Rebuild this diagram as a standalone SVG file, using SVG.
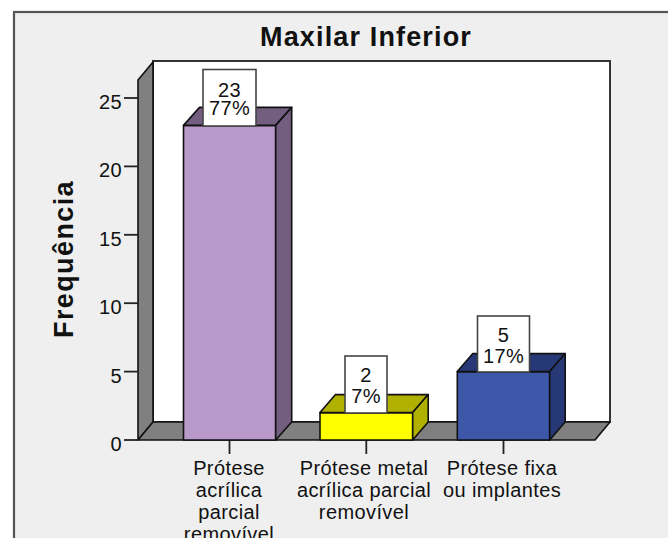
<svg xmlns="http://www.w3.org/2000/svg" width="668" height="538" viewBox="0 0 668 538">
<style>
.t{font-family:"Liberation Sans",Arial,sans-serif;font-size:20px;fill:#111;letter-spacing:0.4px}
.b{font-family:"Liberation Sans",Arial,sans-serif;font-size:27px;font-weight:bold;fill:#111}
.e{stroke:#111;stroke-width:1.6;stroke-linejoin:round}
.box{fill:#fff;stroke:#444;stroke-width:1.6}
.tk{stroke:#222;stroke-width:1.8}
</style>
<rect x="0" y="0" width="668" height="538" fill="#fff"/>
<rect x="14" y="12" width="700" height="600" fill="#efefef" stroke="#555" stroke-width="2.2"/>
<text class="b" x="366" y="46" text-anchor="middle" letter-spacing="1.15">Maxilar Inferior</text>
<text class="b" transform="translate(73,259) rotate(-90)" text-anchor="middle" letter-spacing="1.4">Frequência</text>
<g id="plot">
<rect x="153" y="61" width="457" height="361" fill="#fff" stroke="#333" stroke-width="2"/>
<polygon class="e" points="138,80 153,62 153,422 138,440" fill="#808080"/>
<polygon class="e" points="138,440 153,422 610,422 595,440" fill="#808080"/>
</g>
<g id="axis">
<line class="tk" x1="124" y1="440" x2="138" y2="440"/>
<line class="tk" x1="124" y1="371.6" x2="138" y2="371.6"/>
<line class="tk" x1="124" y1="303.2" x2="138" y2="303.2"/>
<line class="tk" x1="124" y1="234.8" x2="138" y2="234.8"/>
<line class="tk" x1="124" y1="166.4" x2="138" y2="166.4"/>
<line class="tk" x1="124" y1="98" x2="138" y2="98"/>
<text class="t" x="122" y="451" text-anchor="end">0</text>
<text class="t" x="122" y="382.6" text-anchor="end">5</text>
<text class="t" x="122" y="314.2" text-anchor="end">10</text>
<text class="t" x="122" y="245.8" text-anchor="end">15</text>
<text class="t" x="122" y="177.4" text-anchor="end">20</text>
<text class="t" x="122" y="109" text-anchor="end">25</text>
<line class="tk" x1="229.5" y1="440" x2="229.5" y2="454"/>
<line class="tk" x1="366.3" y1="440" x2="366.3" y2="454"/>
<line class="tk" x1="503.5" y1="440" x2="503.5" y2="454"/>
</g>
<g id="bar1">
<rect class="e" x="183.5" y="125.4" width="92.2" height="314.6" fill="#b899c9"/>
<polygon class="e" points="183.5,125.4 199.5,107.4 291.7,107.4 275.7,125.4" fill="#735e80"/>
<polygon class="e" points="275.7,125.4 291.7,107.4 291.7,422 275.7,440" fill="#735e80"/>
<rect class="box" x="203" y="69.5" width="53" height="56.5"/>
<text class="t" x="229.5" y="96.7" text-anchor="middle">23</text>
<text class="t" x="229.5" y="115" text-anchor="middle">77%</text>
</g>
<g id="bar2">
<rect class="e" x="320" y="412.6" width="92.7" height="27.4" fill="#ffff00"/>
<polygon class="e" points="320,412.6 335.5,394.6 428.2,394.6 412.7,412.6" fill="#b0b000"/>
<polygon class="e" points="412.7,412.6 428.2,394.6 428.2,422 412.7,440" fill="#b0b000"/>
<rect class="box" x="345" y="356" width="42" height="57"/>
<text class="t" x="366" y="381.7" text-anchor="middle">2</text>
<text class="t" x="366" y="402.7" text-anchor="middle">7%</text>
</g>
<g id="bar3">
<rect class="e" x="457.3" y="371.6" width="92.4" height="68.4" fill="#3e58a9"/>
<polygon class="e" points="457.3,371.6 472.8,353.6 565.2,353.6 549.7,371.6" fill="#263876"/>
<polygon class="e" points="549.7,371.6 565.2,353.6 565.2,422 549.7,440" fill="#263876"/>
<rect class="box" x="477.5" y="316" width="52" height="56"/>
<text class="t" x="503.5" y="341.7" text-anchor="middle">5</text>
<text class="t" x="503.5" y="363" text-anchor="middle">17%</text>
</g>
<g id="labels">
<text class="t" text-anchor="middle"><tspan x="229" y="475">Prótese</tspan><tspan x="229" y="497">acrílica</tspan><tspan x="229" y="519">parcial</tspan><tspan x="229" y="541">removível</tspan></text>
<text class="t" text-anchor="middle"><tspan x="364" y="475">Prótese metal</tspan><tspan x="364" y="497">acrílica parcial</tspan><tspan x="364" y="519">removível</tspan></text>
<text class="t" text-anchor="middle"><tspan x="502" y="475">Prótese fixa</tspan><tspan x="502" y="497">ou implantes</tspan></text>
</g>
</svg>
